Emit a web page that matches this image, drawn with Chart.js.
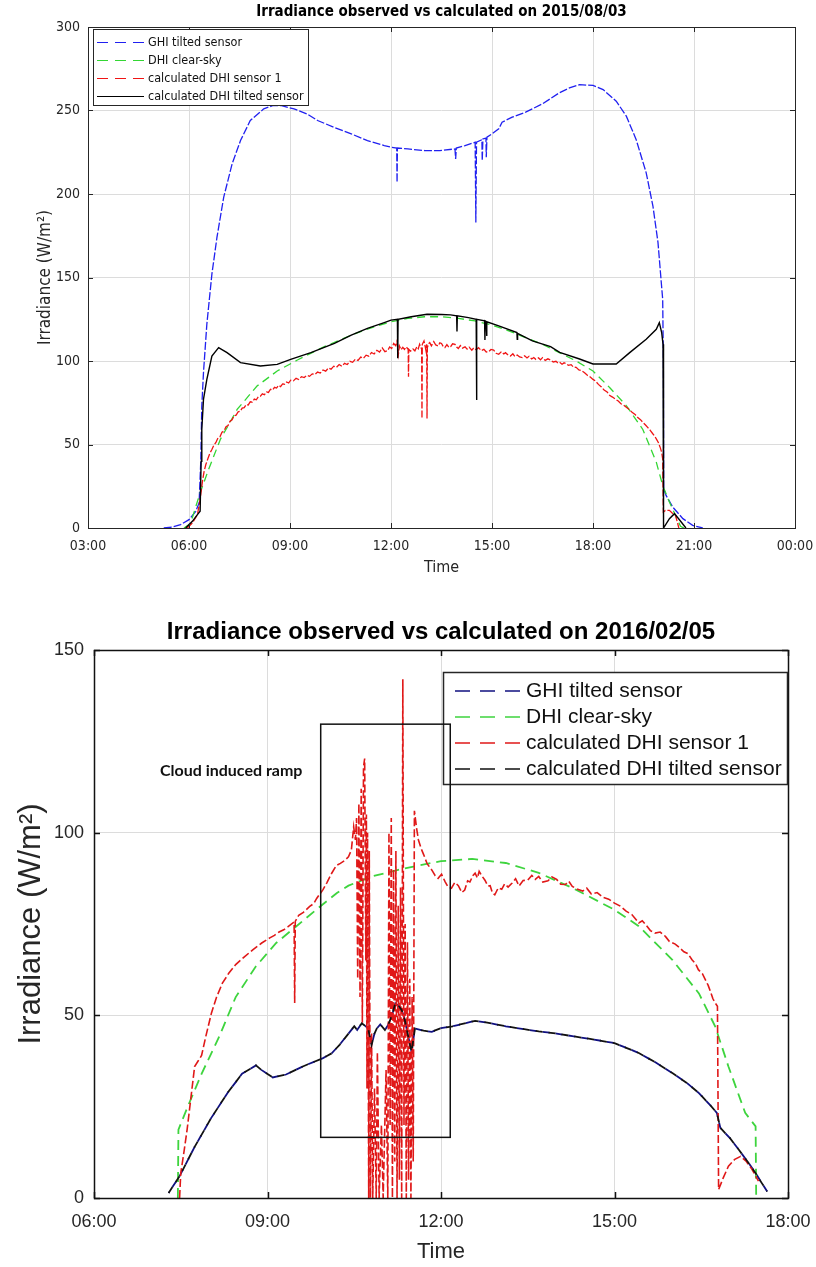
<!DOCTYPE html>
<html>
<head>
<meta charset="utf-8">
<title>Irradiance observed vs calculated</title>
<script src="https://cdn.jsdelivr.net/npm/chart.js@4.4.1/dist/chart.umd.min.js"></script>
<style>
  body { margin: 0; background: #fff; }
  canvas { position: absolute; left: 0; }
  #summer { top: 0; }
  #winter { top: 600px; }
</style>
</head>
<body>
<canvas id="summer" width="816" height="592"></canvas>
<canvas id="winter" width="816" height="667"></canvas>
<script>
// every series is [hour of day, W/m2]

// 2015/08/03
const summerHours = [3, 6, 9, 12, 15, 18, 21, 24];
const summerLevels = [0, 50, 100, 150, 200, 250, 300];

const summerGhi = [
  [5.25,0],[5.5,0.5],[5.75,2],[6.0,5],[6.2,10],[6.3,15],[6.35,40],[6.38,73],[6.43,93],[6.53,122],
  [6.68,152],[6.83,174],[7.03,198],[7.28,218],[7.53,232],[7.82,244],[8.22,251],[8.5,253],[8.72,253],
  [9.12,251],[9.5,248],[9.82,244],[10.3,240],[10.82,236],[11.3,232],[11.8,229],[12.0,228],[12.17,227.5],
  [12.18,207],[12.19,227.5],[12.5,227],[13.0,226],[13.45,226],[13.9,227],[13.92,221],[13.94,227.5],
  [14.2,229],[14.5,231],[14.52,183],[14.54,231],[14.7,232.5],[14.71,220],[14.73,233],[14.82,233.5],
  [14.83,222],[14.85,234],[15.0,236],[15.2,239],[15.3,243],[15.6,246],[16.0,249],[16.5,254],[17.0,260.6],
  [17.3,263.5],[17.6,265.5],[18.0,265],[18.3,262.5],[18.69,255.6],[18.99,246.6],[19.28,232.7],
  [19.58,212.7],[19.78,192.8],[19.93,171],[20.02,149],[20.07,137],[20.09,100],[20.1,23.5],[20.17,19.5],
  [20.37,12.5],[20.67,5.6],[20.96,1.6],[21.26,0]
];

const summerClearSky = [
  [5.85,0],[6.0,2],[6.08,5],[6.33,21],[6.58,35],[6.93,53],[7.43,71],[8.02,85],[8.62,94],[9.22,100.6],
  [10.02,108.6],[10.82,115.5],[11.5,120.5],[12.0,123.5],[12.5,125.5],[13.0,126.5],[13.5,126.5],
  [14.0,125.5],[14.5,124],[15.0,121.5],[15.5,118],[16.0,114],[16.5,110],[17.0,105],[17.5,100],[18.0,94],
  [18.5,84],[19.0,73],[19.48,59],[19.88,39.4],[20.07,25.5],[20.27,15.5],[20.47,6.6],[20.6,1],[20.7,0]
];

const summerSensor1 = [
  [5.95,0],[6.1,3],[6.25,8],[6.33,17],[6.4,28],[6.45,34],[6.5,38],[6.56,41.5],[6.62,44.8],[6.68,47],
  [6.74,49.6],[6.8,51.2],[6.86,53.9],[6.92,54.6],[6.98,57.3],[7.04,58.1],[7.1,60.6],[7.16,61.4],[7.22,63.9],
  [7.28,64.8],[7.34,67.2],[7.4,67.6],[7.46,69.6],[7.52,69.9],[7.58,71.8],[7.64,72.1],[7.7,73.9],[7.76,73.7],
  [7.82,75.6],[7.88,75.4],[7.94,77.2],[8.0,76.8],[8.06,78.6],[8.12,78.9],[8.18,80.3],[8.24,79.8],[8.3,81.5],
  [8.36,81.2],[8.42,83.1],[8.48,82.6],[8.54,84.2],[8.6,83.8],[8.66,85.4],[8.72,84.7],[8.78,86.3],[8.84,86.1],
  [8.9,87.4],[8.96,86.8],[9.02,88.5],[9.1,88.1],[9.18,89.6],[9.26,88.9],[9.34,90.6],[9.42,90.1],[9.5,91.4],
  [9.58,90.8],[9.66,92.3],[9.74,91.9],[9.82,93.4],[9.9,92.8],[9.98,94.6],[10.06,93.9],[10.14,95.8],
  [10.22,95.1],[10.3,96.9],[10.38,96.2],[10.46,97.9],[10.54,96.8],[10.62,98.6],[10.7,97.9],[10.78,99.8],
  [10.86,99.2],[10.94,101.1],[11.02,100.3],[11.1,102.4],[11.18,101.6],[11.26,103.5],[11.34,102.9],
  [11.42,105.1],[11.5,104.2],[11.58,106.4],[11.66,105.3],[11.74,107.9],[11.82,105.6],[11.9,106.2],
  [11.96,108.4],[12.02,107.5],[12.08,110.5],[12.14,109.2],[12.18,112],[12.22,104],[12.25,109],[12.3,106.8],
  [12.35,108.2],[12.4,106.9],[12.45,108.5],[12.51,107],[12.52,90.6],[12.53,107],[12.58,105.9],[12.65,107.2],
  [12.71,106.1],[12.77,108.6],[12.81,107.4],[12.85,110],[12.91,107],[12.92,65.6],[12.93,110],[12.98,112],
  [13.02,108.2],[13.04,106],[13.06,110],[13.07,65.6],[13.08,108],[13.12,110.4],[13.15,111],[13.2,109.1],
  [13.27,111.6],[13.33,109.6],[13.4,109],[13.45,110.9],[13.5,110.5],[13.55,108.7],[13.6,108],[13.66,109.8],
  [13.72,108.1],[13.77,108.6],[13.83,110.3],[13.9,110],[13.95,108.4],[14.0,107.5],[14.06,109.2],
  [14.12,107.7],[14.2,108.5],[14.26,107.1],[14.32,108.3],[14.4,106.5],[14.46,107.9],[14.53,106.8],
  [14.6,108],[14.68,106.2],[14.76,107],[14.83,105.4],[14.9,105.5],[14.97,106.9],[15.05,106.5],[15.12,104.6],
  [15.2,104],[15.28,105.6],[15.35,104.2],[15.4,105],[15.48,103.5],[15.55,103],[15.62,104.3],[15.68,102.7],
  [15.75,103.6],[15.82,102.4],[15.9,102],[15.97,103.1],[16.04,101.8],[16.1,102.8],[16.18,101.2],
  [16.24,102.1],[16.3,101],[16.38,101.9],[16.44,100.7],[16.5,102],[16.58,100.4],[16.66,101.3],[16.74,100.6],
  [16.82,99.4],[16.9,99.8],[16.96,98.8],[17.01,99.2],[17.08,98.1],[17.14,98.9],[17.2,98.5],[17.27,97.4],
  [17.35,97.8],[17.42,96.3],[17.5,96.2],[17.58,94.7],[17.66,94.3],[17.75,93],[17.84,91.3],[17.92,90.4],
  [18.0,89],[18.08,87.9],[18.16,86],[18.25,84.5],[18.33,82.6],[18.42,81.4],[18.5,79.3],[18.58,78.4],
  [18.66,77.2],[18.75,76],[18.83,74.4],[18.91,73.6],[18.99,72.3],[19.08,70.9],[19.16,69.3],[19.25,68],
  [19.33,66.1],[19.41,64.9],[19.48,63.3],[19.56,61.7],[19.63,60.1],[19.7,58.5],[19.77,56.6],[19.83,55.1],
  [19.88,53.4],[19.94,51.2],[20.0,48],[20.04,45.3],[20.07,41.4],[20.09,9.6],[20.15,10.5],[20.27,10.6],
  [20.35,9],[20.45,7.6],[20.55,0]
];

const summerTilted = [
  [5.9,0],[6.1,4],[6.25,8],[6.33,10],[6.36,40],[6.38,59],[6.43,77],[6.53,89],[6.68,103],[6.88,108],
  [7.13,105],[7.53,99],[8.12,97],[8.62,98],[9.02,101],[9.62,105],[10.32,110.6],[10.82,115.5],[11.3,119.5],
  [11.8,123],[12.0,124.5],[12.19,125],[12.2,101.6],[12.21,125],[12.6,126.5],[13.07,128],[13.5,127.8],
  [13.77,127.6],[13.95,127],[13.96,117.6],[13.97,127],[14.3,126],[14.53,125],[14.54,76.6],[14.55,125],
  [14.78,124],[14.79,112.6],[14.8,124],[14.83,123.5],[14.84,115],[14.85,123.5],[15.2,121],[15.74,117],
  [15.75,113],[15.76,116.6],[16.2,112],[16.74,108.6],[17.01,105.2],[17.6,101.2],[18.0,98.2],[18.69,98.2],
  [19.09,105],[19.58,113],[19.88,119],[19.97,123],[20.04,117],[20.08,110],[20.09,0],[20.1,0],[20.27,5.6],
  [20.42,8.6],[20.62,3.6],[20.76,0]
];

// 2016/02/05
const winterHours = [6, 9, 12, 15, 18];
const winterLevels = [0, 50, 100, 150];

const winterTilted = [
  [7.29,1.4],[7.48,6],[7.74,14],[8.03,22],[8.32,29],[8.56,34],[8.8,36.3],[8.9,35],[9.09,33],[9.32,33.8],
  [9.61,36],[9.96,38.3],[10.11,39.6],[10.25,42],[10.4,45],[10.5,47],[10.55,46],[10.63,47.8],[10.7,47],
  [10.74,46.4],[10.8,41.9],[10.85,45],[10.89,46.4],[10.95,47.5],[11.03,46],[11.08,47.2],[11.12,48.7],
  [11.17,51],[11.21,53.3],[11.27,52.5],[11.32,51.5],[11.37,49],[11.41,46],[11.49,40],[11.55,46.4],
  [11.7,45.8],[11.84,45.5],[12.0,46.5],[12.2,47],[12.41,47.8],[12.59,48.5],[12.8,48],[13.12,47],
  [13.4,46.3],[13.69,45.6],[14.0,45],[14.27,44.3],[14.6,43.5],[15.0,42.4],[15.42,39.7],[15.7,37.2],
  [16.0,34.2],[16.25,31.5],[16.46,28.7],[16.65,25.5],[16.77,23.3],[16.83,19.2],[17.0,16.3],[17.15,13.2],
  [17.3,10],[17.44,6.8],[17.55,4],[17.64,1.8]
];
// both tilted traces coincide on this day
const winterGhi = winterTilted;

const winterClearSky = [
  [7.45,0],[7.46,18.7],[7.62,25],[7.86,34],[8.16,44],[8.45,55],[8.8,63.4],[9.15,69.8],[9.5,74.4],
  [9.85,79],[10.2,83.5],[10.4,85.5],[10.8,88],[11.26,89.8],[11.6,91],[12.0,92.2],[12.54,92.8],
  [13.12,91.7],[13.69,89],[14.27,84.9],[15.0,78.9],[15.42,74.4],[16.0,65.2],[16.46,56],[16.74,47],
  [16.97,36],[17.26,23.3],[17.44,19.6],[17.45,0]
];

const winterSensor1 = [
  [7.48,0],[7.5,6.8],[7.55,12],[7.61,18.7],[7.68,28],[7.74,36],[7.8,37.5],[7.86,39],[7.93,44],[8.03,50.6],
  [8.12,55],[8.22,58.8],[8.33,61.5],[8.45,63.9],[8.6,66],[8.75,68],[8.9,69.8],[9.04,71.2],[9.12,71.9],
  [9.2,72.8],[9.28,73.4],[9.35,74.2],[9.44,75.3],[9.46,75.5],[9.47,53.4],[9.48,75.7],[9.54,77.4],
  [9.62,78.2],[9.73,79.8],[9.8,80.6],[9.85,82],[9.9,83.1],[9.96,84.4],[10.03,86.4],[10.11,88.9],
  [10.19,91],[10.26,91.6],[10.33,92.3],[10.4,93.4],[10.45,95.2],[10.49,101.6],[10.52,98],
  [10.54,104],[10.56,60],[10.58,108],[10.6,55],[10.62,112],[10.64,48],[10.66,118],[10.68,120.3],
  [10.7,65],[10.71,105],[10.72,30],[10.73,100],[10.75,0],[10.76,95],[10.78,0],[10.8,45],[10.82,0],
  [10.85,30],[10.88,0],[10.9,40],[10.93,0],[10.97,20],[11.0,0],[11.05,35],[11.08,0],[11.1,100],
  [11.12,20],[11.14,104],[11.16,0],[11.18,90],[11.2,10],[11.22,95],[11.24,0],[11.26,80],[11.28,5],
  [11.3,85],[11.32,0],[11.34,142],[11.36,20],[11.38,75],[11.4,0],[11.42,70],[11.44,5],[11.46,60],
  [11.48,0],[11.5,55],[11.52,10],[11.54,106],[11.58,101],[11.61,98],[11.66,95.5],[11.7,94],[11.76,91.5],
  [11.84,89.8],[11.9,88.2],[11.95,87.5],[12.01,88.6],[12.07,86.6],[12.12,85.2],[12.18,84.8],[12.24,86.4],
  [12.3,85.5],[12.36,83.6],[12.41,84.3],[12.46,86.8],[12.5,86.5],[12.55,88.2],[12.59,88.9],[12.63,87.6],
  [12.66,89.4],[12.71,88.1],[12.76,87],[12.81,85.4],[12.85,85.5],[12.89,83.5],[12.93,83],[12.99,84.9],
  [13.05,84.5],[13.1,86],[13.16,85.1],[13.23,86.2],[13.29,87.4],[13.35,85.4],[13.42,86.9],[13.5,87],
  [13.57,88.3],[13.63,87.2],[13.69,88],[13.76,86.5],[13.85,86.8],[13.92,87.9],[14.0,87.2],[14.07,85.9],
  [14.15,85.8],[14.21,86.7],[14.27,85.3],[14.35,84.6],[14.45,84],[14.52,84.8],[14.6,83.2],[14.7,83.6],
  [14.8,82.3],[14.9,81.8],[15.0,80.7],[15.1,79.9],[15.2,78.5],[15.3,77.6],[15.42,75.3],[15.48,75.9],
  [15.55,74.6],[15.62,73.2],[15.7,72.5],[15.79,72.8],[15.88,71.6],[15.95,70.2],[16.05,69.5],[16.12,68.6],
  [16.2,67.4],[16.27,66.9],[16.34,65.2],[16.4,64.2],[16.45,62.5],[16.52,61.4],[16.57,59.8],[16.62,58.2],
  [16.66,56.5],[16.7,54.6],[16.74,53.4],[16.78,52.5],[16.8,2.3],[16.88,5.5],[16.97,8.7],[17.08,10.6],
  [17.18,11.4],[17.28,10],[17.38,7.8],[17.49,4.6]
];

// box drawn round the cloud event: hours from, hours to, W/m2 from, W/m2 to
const rampBox = [9.92, 12.16, 16.6, 129.7];
const rampNote = 'Cloud induced ramp';
const rampNoteAt = [7.14, 117];

const NARROW = '"Liberation Sans Narrow", "DejaVu Sans Condensed", "Liberation Sans", Arial, sans-serif';
const SANS = '"Liberation Sans", Arial, Helvetica, sans-serif';
const INK = '#262626';

const pts = arr => arr.map(([x, y]) => ({ x, y }));
const hourLabel = v => String(v % 24).padStart(2, '0') + ':00';
const useTicks = list => scale => { scale.ticks = list.map(v => ({ value: v })); };

// fixed axis size, and no extra room for the end labels
const fixHeight = h => s => { s.height = h; s.paddingLeft = 0; s.paddingRight = 0; };
const fixWidth = w => s => { s.width = w; s.paddingTop = 0; s.paddingBottom = 0; };

// centre the title over the plot box, not over the whole canvas
const centreTitle = {
  id: 'centreTitle',
  afterLayout(chart) {
    const t = chart.titleBlock;
    if (!t) return;
    t.left = chart.chartArea.left;
    t.right = chart.chartArea.right;
    t.width = t.right - t.left;
  }
};

// axes box with ticks pointing inward
const matlabBox = {
  id: 'matlabBox',
  afterDatasetsDraw(chart, args, o) {
    const { ctx, chartArea: a, scales: { x, y } } = chart;
    ctx.save();
    ctx.strokeStyle = o.color;
    ctx.lineWidth = o.width;
    ctx.beginPath();
    x.ticks.forEach(t => {
      const px = Math.round(x.getPixelForValue(t.value)) + 0.5;
      ctx.moveTo(px, a.bottom); ctx.lineTo(px, a.bottom - o.tick);
      ctx.moveTo(px, a.top); ctx.lineTo(px, a.top + o.tick);
    });
    y.ticks.forEach(t => {
      const py = Math.round(y.getPixelForValue(t.value)) + 0.5;
      ctx.moveTo(a.left, py); ctx.lineTo(a.left + o.tick, py);
      ctx.moveTo(a.right, py); ctx.lineTo(a.right - o.tick, py);
    });
    ctx.stroke();
    ctx.strokeRect(Math.round(a.left) + 0.5, Math.round(a.top) + 0.5,
      Math.round(a.right - a.left), Math.round(a.bottom - a.top));
    ctx.restore();
  }
};

// legend in a framed white box inside the axes
const boxLegend = {
  id: 'boxLegend',
  afterDatasetsDraw(chart, args, o) {
    const { ctx, chartArea: a } = chart;
    const x0 = Math.round(a.left + o.left), y0 = Math.round(a.top + o.top);
    ctx.save();
    ctx.fillStyle = '#fff';
    ctx.fillRect(x0, y0, o.width, o.height);
    ctx.strokeStyle = INK;
    ctx.lineWidth = o.frame;
    ctx.strokeRect(x0 + 0.5, y0 + 0.5, o.width, o.height);
    ctx.font = o.font;
    ctx.textBaseline = 'middle';
    chart.data.datasets.forEach((ds, row) => {
      const yy = y0 + o.firstRow + row * o.rowGap;
      ctx.strokeStyle = ds.borderColor;
      ctx.lineWidth = o.lineWidth;
      ctx.setLineDash(ds.legendDash || []);
      ctx.beginPath();
      ctx.moveTo(x0 + o.sampleX, yy);
      ctx.lineTo(x0 + o.sampleX + o.sampleLen, yy);
      ctx.stroke();
      ctx.setLineDash([]);
      ctx.fillStyle = '#111';
      ctx.fillText(ds.label, x0 + o.textX, yy);
    });
    ctx.restore();
  }
};

// rectangle and note marking the cloud induced ramp
const rampMark = {
  id: 'rampMark',
  afterDraw(chart, args, o) {
    const { ctx, scales: { x, y } } = chart;
    const l = x.getPixelForValue(rampBox[0]), r = x.getPixelForValue(rampBox[1]);
    const b = y.getPixelForValue(rampBox[2]), t = y.getPixelForValue(rampBox[3]);
    ctx.save();
    ctx.strokeStyle = '#111';
    ctx.lineWidth = 1.5;
    ctx.strokeRect(l, t, r - l, b - t);
    ctx.font = o.font;
    ctx.fillStyle = '#111';
    ctx.textBaseline = 'middle';
    ctx.fillText(rampNote, x.getPixelForValue(rampNoteAt[0]), y.getPixelForValue(rampNoteAt[1]));
    ctx.restore();
  }
};

Chart.defaults.color = INK;

// This is the first chart (summer day)
new Chart(document.getElementById('summer'), {
  type: 'line',
  data: {
    datasets: [
      { label: 'GHI tilted sensor', data: pts(summerGhi), borderColor: '#2020f0', borderWidth: 1.3,
        borderDash: [8, 2], legendDash: [11, 7], order: 4 },
      { label: 'DHI clear-sky', data: pts(summerClearSky), borderColor: '#33d633', borderWidth: 1.3,
        borderDash: [8, 5], legendDash: [11, 7], order: 3 },
      { label: 'calculated DHI sensor 1', data: pts(summerSensor1), borderColor: '#f01414', borderWidth: 1.3,
        borderDash: [7, 2], legendDash: [11, 7], order: 2 },
      { label: 'calculated DHI tilted sensor', data: pts(summerTilted), borderColor: '#000', borderWidth: 1.4,
        legendDash: [], order: 1 }
    ]
  },
  options: {
    responsive: false,
    animation: false,
    devicePixelRatio: 1,
    layout: { padding: { left: 0, right: 21, top: 0, bottom: 0 } },
    elements: { point: { radius: 0 }, line: { tension: 0, fill: false } },
    plugins: {
      legend: { display: false },
      tooltip: { enabled: false },
      title: {
        display: true,
        text: 'Irradiance observed vs calculated on 2015/08/03',
        color: '#000',
        font: { family: NARROW, size: 15, weight: 'bold' },
        padding: { top: 3, bottom: 6 }
      },
      boxLegend: { left: 5, top: 2, width: 215, height: 76, firstRow: 13.5, rowGap: 18,
        sampleX: 4, sampleLen: 47, textX: 55, font: '12.5px ' + NARROW, lineWidth: 1.2, frame: 1 },
      matlabBox: { color: INK, width: 1, tick: 5 }
    },
    scales: {
      x: {
        type: 'linear', min: 3, max: 24,
        afterBuildTicks: useTicks(summerHours),
        afterFit: fixHeight(64),
        grid: { color: '#dcdcdc', drawTicks: false },
        border: { display: false },
        ticks: { callback: hourLabel, autoSkip: false, maxRotation: 0, padding: 10,
          font: { family: NARROW, size: 14 } },
        title: { display: true, text: 'Time', font: { family: NARROW, size: 16 },
          padding: { top: 0, bottom: 15 } }
      },
      y: {
        min: 0, max: 300,
        afterBuildTicks: useTicks(summerLevels),
        afterFit: fixWidth(88),
        grid: { color: '#dcdcdc', drawTicks: false },
        border: { display: false },
        ticks: { autoSkip: false, padding: 8, font: { family: NARROW, size: 14 } },
        title: { display: true, text: 'Irradiance (W/m²)', font: { family: NARROW, size: 17 },
          padding: { top: 35, bottom: 0 } }
      }
    }
  },
  plugins: [centreTitle, matlabBox, boxLegend]
});

// This is the second chart (winter day with the cloud event)
new Chart(document.getElementById('winter'), {
  type: 'line',
  data: {
    datasets: [
      { label: 'GHI tilted sensor', data: pts(winterGhi), borderColor: '#101080', borderWidth: 1.8,
        borderDash: [7, 6], borderDashOffset: 6, legendDash: [15, 10], order: 4 },
      { label: 'DHI clear-sky', data: pts(winterClearSky), borderColor: '#3ed43e', borderWidth: 1.8,
        borderDash: [10, 6], legendDash: [15, 10], order: 3 },
      { label: 'calculated DHI sensor 1', data: pts(winterSensor1), borderColor: '#e01818', borderWidth: 1.6,
        borderDash: [8, 3], legendDash: [15, 10], order: 2 },
      { label: 'calculated DHI tilted sensor', data: pts(winterTilted), borderColor: '#111', borderWidth: 1.8,
        borderDash: [7, 6], legendDash: [15, 10], order: 1 }
    ]
  },
  options: {
    responsive: false,
    animation: false,
    devicePixelRatio: 1,
    layout: { padding: { left: 0, right: 28, top: 0, bottom: 0 } },
    elements: { point: { radius: 0 }, line: { tension: 0, fill: false } },
    plugins: {
      legend: { display: false },
      tooltip: { enabled: false },
      title: {
        display: true,
        text: 'Irradiance observed vs calculated on 2016/02/05',
        color: '#000',
        font: { family: SANS, size: 24, weight: 'bold' },
        padding: { top: 17.6, bottom: 3.6 }
      },
      boxLegend: { left: 349, top: 22, width: 344, height: 112, firstRow: 19, rowGap: 26,
        sampleX: 12, sampleLen: 65, textX: 83, font: '21px ' + SANS, lineWidth: 1.6, frame: 1.5 },
      matlabBox: { color: '#111', width: 1.5, tick: 6 },
      rampMark: { font: 'bold 16px Lato, "Open Sans", sans-serif' }
    },
    scales: {
      x: {
        type: 'linear', min: 6, max: 18,
        afterBuildTicks: useTicks(winterHours),
        afterFit: fixHeight(69),
        grid: { color: '#dcdcdc', drawTicks: false },
        border: { display: false },
        ticks: { callback: hourLabel, autoSkip: false, maxRotation: 0, padding: 13,
          font: { family: SANS, size: 18 } },
        title: { display: true, text: 'Time', font: { family: SANS, size: 22 },
          padding: { top: 0, bottom: 2 } }
      },
      y: {
        min: 0, max: 150,
        afterBuildTicks: useTicks(winterLevels),
        afterFit: fixWidth(94),
        grid: { color: '#dcdcdc', drawTicks: false },
        border: { display: false },
        ticks: { autoSkip: false, padding: 10, font: { family: SANS, size: 18 } },
        title: { display: true, text: 'Irradiance (W/m²)', font: { family: SANS, size: 31 },
          padding: { top: 13, bottom: 0 } }
      }
    }
  },
  plugins: [centreTitle, matlabBox, boxLegend, rampMark]
});
</script>
</body>
</html>
